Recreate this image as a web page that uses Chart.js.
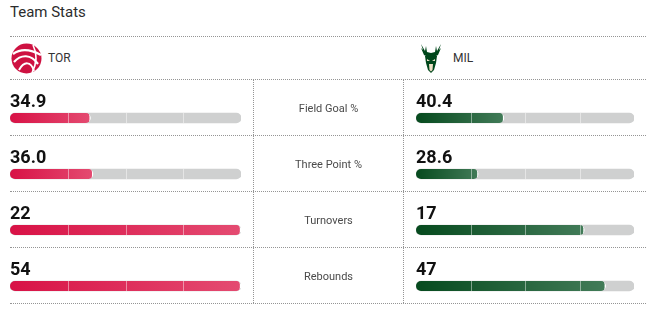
<!DOCTYPE html>
<html>
<head>
<meta charset="utf-8">
<script src="https://cdn.jsdelivr.net/npm/chart.js@4.4.1/dist/chart.umd.min.js"></script>
<style>
  body { margin: 0; width: 652px; height: 314px; background: #fff; position: relative; overflow: hidden; font-family: Roboto, sans-serif; }
  .abs { position: absolute; }
  #title { left: 10px; top: 3px; font-size: 15px; color: #2b2c2d; }
  .hline { height: 0; border-top: 1px dotted #959595; }
  .vline { width: 0; border-left: 1px dotted #959595; }
  .team { font-size: 12px; color: #333; top: 51px; }
  .stat { left: 254px; width: 149px; height: 56px; display: flex; align-items: center; justify-content: center; font-size: 11px; color: #4a4a4a; }
  canvas { position: absolute; }
</style>
</head>
<body>
<div id="title" class="abs">Team Stats</div>

<svg class="abs" style="left:11px;top:43px" width="31" height="31" viewBox="0 0 31 31">
  <circle cx="15.5" cy="15.5" r="15" fill="#ce1141"/>
  <path d="M2 11 C9 6 19 6 30 12" stroke="#fff" stroke-width="2.2" fill="none"/>
  <path d="M3 19 C10 11 20 11 27 21" stroke="#fff" stroke-width="2.2" fill="none"/>
  <path d="M8 27 C13 18 20 18 23 28" stroke="#fff" stroke-width="2" fill="none"/>
  <path d="M22 2 C26 10 26 20 21 30" stroke="#fff" stroke-width="1.6" fill="none"/>
</svg>
<div class="abs team" style="left:48px">TOR</div>

<svg class="abs" style="left:419px;top:43px" width="24" height="31" viewBox="0 0 24 31">
  <path d="M2 1 L4 7 L2 5 L5 12 L9 14 L15 14 L19 12 L22 5 L20 7 L22 1 L18 8 L17 3 L16 9 L12 10 L8 9 L7 3 L6 8 Z" fill="#00471b"/>
  <path d="M6 13 L18 13 L17 20 L15 27 L12 30 L9 27 L7 20 Z" fill="#00471b"/>
  <path d="M10 21 L14 21 L13.5 27 L12 28.5 L10.5 27 Z" fill="#eee1c6"/>
  <path d="M8 16 L11 18 L8 18 Z M16 16 L13 18 L16 18 Z" fill="#eee1c6"/>
</svg>
<div class="abs team" style="left:453px">MIL</div>

<canvas id="torChart" width="253" height="224" style="left:0;top:90px"></canvas>
<canvas id="milChart" width="249" height="224" style="left:403px;top:90px"></canvas>

<script>
const categories = ['Field Goal %', 'Three Point %', 'Turnovers', 'Rebounds'];
const torValues = [34.9, 36.0, 22, 54];
const milValues = [40.4, 28.6, 17, 47];
const isPercent = [true, true, false, false];
const dividers = [0.25, 0.5, 0.75];

// dotted grid lines and stat names
const rowLines = [79, 135, 191, 247, 303];
function addDiv(cls, css, text) {
    const d = document.createElement('div');
    d.className = 'abs ' + cls;
    d.style.cssText = css;
    if (text) d.textContent = text;
    document.body.appendChild(d);
}
addDiv('hline', 'left:10px;top:36px;width:636px');
rowLines.forEach(y => addDiv('hline', `left:10px;top:${y}px;width:636px`));
addDiv('vline', 'left:253px;top:80px;height:223px');
addDiv('vline', 'left:403px;top:80px;height:223px');
categories.forEach((c, i) => addDiv('stat', `top:${rowLines[i] + 1}px`, c));

// bar fill: percentages out of 100, counts against the larger team value
function ratio(v, i) {
    if (isPercent[i]) return v / 100;
    return v / Math.max(torValues[i], milValues[i]);
}
function label(v, i) {
    return isPercent[i] ? v.toFixed(1) : String(v);
}

const barDecor = {
    id: 'barDecor',
    afterDatasetsDraw(chart, args, opts) {
        const ctx = chart.ctx;
        const x = chart.scales.x;
        const meta = chart.getDatasetMeta(1);
        meta.data.forEach((bar, i) => {
            const top = bar.y - bar.height / 2;
            const bot = bar.y + bar.height / 2;
            ctx.save();
            ctx.strokeStyle = 'rgba(255,255,255,0.45)';
            ctx.lineWidth = 1;
            dividers.forEach(d => {
                const px = Math.round(x.getPixelForValue(d)) + 0.5;
                ctx.beginPath();
                ctx.moveTo(px, top);
                ctx.lineTo(px, bot);
                ctx.stroke();
            });
            ctx.fillStyle = '#111';
            ctx.font = 'bold 18px Roboto';
            ctx.textBaseline = 'alphabetic';
            ctx.fillText(opts.labels[i], x.getPixelForValue(0), bar.y - 11);
            ctx.restore();
        });
    }
};

function makeChart(id, values, colA, colB, pad) {
    return new Chart(document.getElementById(id), {
        type: 'bar',
        data: {
            labels: categories,
            datasets: [{
                data: values.map(ratio),
                backgroundColor: function(c) {
                    const ch = c.chart;
                    if (!ch.chartArea || c.raw === undefined) return colA;
                    const x = ch.scales.x;
                    const g = ch.ctx.createLinearGradient(x.getPixelForValue(0), 0, x.getPixelForValue(c.raw), 0);
                    g.addColorStop(0, colA);
                    g.addColorStop(1, colB);
                    return g;
                },
                borderColor: '#fff',
                borderWidth: {top: 0, left: 0, bottom: 0, right: 1.5},
                borderSkipped: false,
                borderRadius: 5,
                barThickness: 10
            }, {
                data: categories.map(() => 1),
                backgroundColor: '#cfd0d0',
                borderWidth: 0,
                borderSkipped: false,
                borderRadius: 5,
                barThickness: 10
            }]
        },
        options: {
            indexAxis: 'y',
            responsive: false,
            animation: false,
            layout: {padding: pad},
            datasets: {bar: {grouped: false}},
            scales: {
                x: {min: 0, max: 1, display: false},
                y: {display: false}
            },
            plugins: {
                legend: {display: false},
                tooltip: {enabled: false},
                barDecor: {labels: values.map(label)}
            }
        },
        plugins: [barDecor]
    });
}

makeChart('torChart', torValues, '#d81246', '#e44b71', {left: 10, right: 12, top: 0, bottom: 0});
makeChart('milChart', milValues, '#064a1e', '#427b58', {left: 13, right: 18, top: 0, bottom: 0});
</script>
</body>
</html>
